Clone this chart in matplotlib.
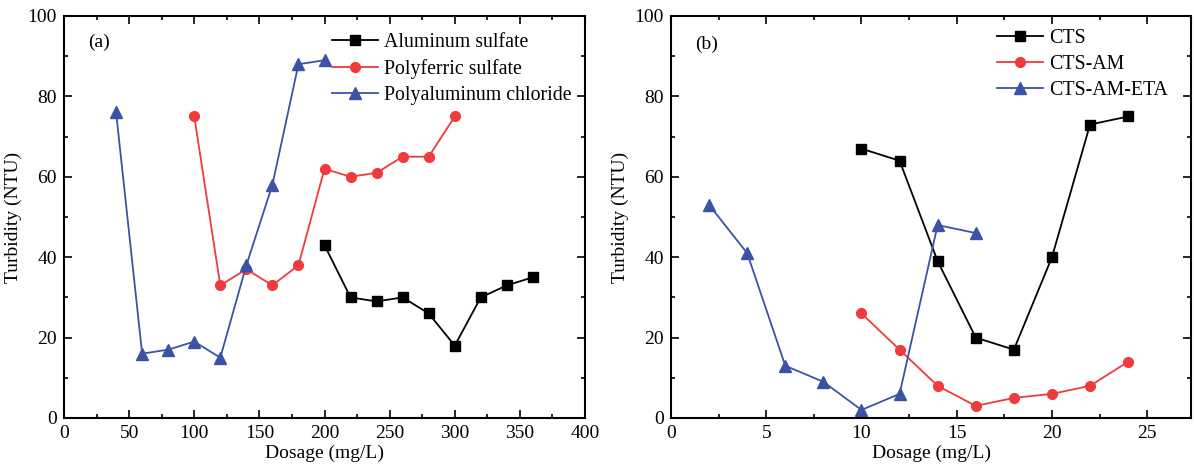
import matplotlib
matplotlib.use("Agg")
import matplotlib.pyplot as plt
from matplotlib.ticker import MultipleLocator

plt.rcParams['font.family'] = ['Liberation Serif', 'DejaVu Serif']
plt.rcParams['font.size'] = 14
plt.rcParams['mathtext.fontset'] = 'stix'

# panel (a) data
dose_al = [200, 220, 240, 260, 280, 300, 320, 340, 360]
turb_al = [43, 30, 29, 30, 26, 18, 30, 33, 35]
dose_pfs = [100, 120, 140, 160, 180, 200, 220, 240, 260, 280, 300]
turb_pfs = [75, 33, 37, 33, 38, 62, 60, 61, 65, 65, 75]
dose_pac = [40, 60, 80, 100, 120, 140, 160, 180, 200]
turb_pac = [76, 16, 17, 19, 15, 38, 58, 88, 89]

# panel (b) data
dose_cts = [10, 12, 14, 16, 18, 20, 22, 24]
turb_cts = [67, 64, 39, 20, 17, 40, 73, 75]
dose_am = [10, 12, 14, 16, 18, 20, 22, 24]
turb_am = [26, 17, 8, 3, 5, 6, 8, 14]
dose_eta = [2, 4, 6, 8, 10, 12, 14, 16]
turb_eta = [53, 41, 13, 9, 2, 6, 48, 46]

BLACK = "#000000"
RED = "#ef3b3b"
BLUE = "#3b53a4"

fig = plt.figure(figsize=(11.94, 4.76), dpi=100)
ax1 = fig.add_axes([64 / 1194, 1 - 418 / 476, (585 - 64) / 1194, 402 / 476])
ax2 = fig.add_axes([671 / 1194, 1 - 418 / 476, (1191 - 671) / 1194, 402 / 476])


def style_axis(ax):
    ax.tick_params(which="both", direction="in", top=True, right=True, width=1.2)
    ax.tick_params(which="major", length=6, pad=5)
    ax.tick_params(which="minor", length=3)
    for s in ax.spines.values():
        s.set_linewidth(1.5)
    ax.set_ylim(0, 100)
    ax.yaxis.set_major_locator(MultipleLocator(20))
    ax.yaxis.set_minor_locator(MultipleLocator(10))
    ax.set_xlabel("Dosage (mg/L)", labelpad=2)
    ax.set_ylabel("Turbidity (NTU)", labelpad=4)


leg_kw = dict(loc="upper left", frameon=False, fontsize=14.3, handlelength=2.3,
              handletextpad=0.3, labelspacing=0.36, borderaxespad=0)

ax1.plot(dose_al, turb_al, color=BLACK, marker="s", markersize=7, lw=1.3, label="Aluminum sulfate")
ax1.plot(dose_pfs, turb_pfs, color=RED, marker="o", markersize=7, lw=1.3, label="Polyferric sulfate")
ax1.plot(dose_pac, turb_pac, color=BLUE, marker="^", markersize=8, lw=1.3, label="Polyaluminum chloride")
ax1.set_xlim(0, 400)
ax1.xaxis.set_major_locator(MultipleLocator(50))
ax1.xaxis.set_minor_locator(MultipleLocator(25))
style_axis(ax1)
ax1.text(0.046, 0.935, "(a)", transform=ax1.transAxes, va="center")
ax1.legend(bbox_to_anchor=(0.500, 0.978), **leg_kw)

ax2.plot(dose_cts, turb_cts, color=BLACK, marker="s", markersize=7, lw=1.3, label="CTS")
ax2.plot(dose_am, turb_am, color=RED, marker="o", markersize=7, lw=1.3, label="CTS-AM")
ax2.plot(dose_eta, turb_eta, color=BLUE, marker="^", markersize=8, lw=1.3, label="CTS-AM-ETA")
ax2.set_xlim(0, 27.3)
ax2.xaxis.set_major_locator(MultipleLocator(5))
ax2.xaxis.set_minor_locator(MultipleLocator(2.5))
style_axis(ax2)
ax2.text(0.046, 0.930, "(b)", transform=ax2.transAxes, va="center")
ax2.legend(bbox_to_anchor=(0.612, 0.988), **leg_kw)

fig.savefig("out.png", dpi=100)
